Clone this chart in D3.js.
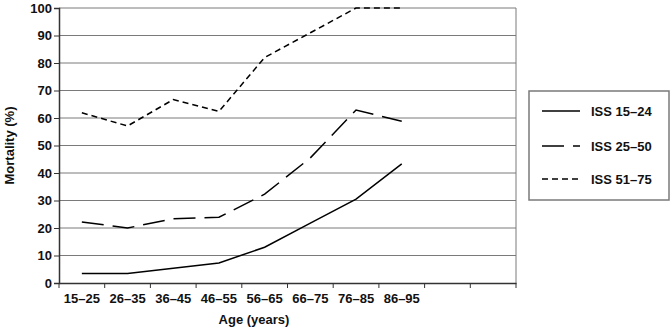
<!DOCTYPE html>
<html>
<head>
<meta charset="utf-8">
<script src="https://cdn.jsdelivr.net/npm/d3@7"></script>
<style>
  body { margin: 0; background: #fff; }
  svg text { font-family: "Liberation Sans", Arial, sans-serif; font-weight: bold; fill: #111; }
</style>
</head>
<body>
<svg id="chart" width="672" height="328"></svg>
<script>
// age groups on the x axis (two blank slots at the end, like the original)
var ageGroups = ["15–25", "26–35", "36–45", "46–55", "56–65", "66–75", "76–85", "86–95"];
var blankSlots = ["", " "];

var seriesNames = ["ISS 15–24", "ISS 25–50", "ISS 51–75"];
var iss15to24 = [3.5, 3.5, 5.4, 7.3, 13, 21.8, 30.5, 43.3];
var iss25to50 = [22.2, 20, 23.4, 23.9, 32.3, 45.5, 62.9, 58.8];
var iss51to75 = [61.9, 57.1, 66.7, 62.4, 82, 91, 100, 100];
var yTicks = [0, 10, 20, 30, 40, 50, 60, 70, 80, 90, 100];

var dashes = [null, "22,9", "6,4"];

var svg = d3.select("#chart");
var margin = {top: 8, left: 59, right: 156, bottom: 45};
var width = 672 - margin.left - margin.right,
    height = 328 - margin.top - margin.bottom;

var g = svg.append("g")
    .attr("transform", "translate(" + margin.left + "," + margin.top + ")");

var x = d3.scaleBand()
    .domain(ageGroups.concat(blankSlots))
    .range([0, width])
    .padding(0);

var y = d3.scaleLinear()
    .domain([0, 100])
    .range([height, 0]);

//gridlines
g.selectAll(".grid")
    .data(yTicks.filter(function(d) { return d > 0; }))
    .enter().append("line")
    .attr("class", "grid")
    .attr("x1", 0)
    .attr("x2", width)
    .attr("y1", function(d) { return y(d); })
    .attr("y2", function(d) { return y(d); })
    .attr("stroke", "#7a7a7a")
    .attr("stroke-width", 1);

//right border of the plot
g.append("line")
    .attr("x1", width).attr("x2", width)
    .attr("y1", 0).attr("y2", height)
    .attr("stroke", "#7a7a7a")
    .attr("stroke-width", 1);

//y axis
var yAxis = d3.axisLeft(y)
    .tickValues(yTicks)
    .tickSize(5)
    .tickPadding(2);

var yG = g.append("g").call(yAxis);
yG.select(".domain").attr("stroke", "#333").attr("stroke-width", 1.5);
yG.selectAll(".tick line").attr("stroke", "#333");
yG.selectAll(".tick text").style("font-size", "13px").attr("fill", "#111");

//x axis: labels centred in bands, ticks at band edges
var xAxis = d3.axisBottom(x)
    .tickSize(0)
    .tickPadding(11);

var xG = g.append("g")
    .attr("transform", "translate(0," + height + ")")
    .call(xAxis);
xG.select(".domain").attr("stroke", "#333").attr("stroke-width", 1.5);
xG.selectAll(".tick text").style("font-size", "13px").attr("fill", "#111");

var edges = x.domain().map(function(d) { return x(d); }).concat([width]);
xG.selectAll(".edge")
    .data(edges)
    .enter().append("line")
    .attr("class", "edge")
    .attr("x1", function(d) { return d; })
    .attr("x2", function(d) { return d; })
    .attr("y1", 0)
    .attr("y2", 5)
    .attr("stroke", "#333");

//axis titles
g.append("text")
    .attr("x", 254 - margin.left)
    .attr("y", height + 41)
    .attr("text-anchor", "middle")
    .style("font-size", "13px")
    .text("Age (years)");

svg.append("text")
    .attr("transform", "translate(14," + (margin.top + height / 2) + ") rotate(-90)")
    .attr("text-anchor", "middle")
    .style("font-size", "13px")
    .text("Mortality (%)");

//series lines
var allSeries = [iss15to24, iss25to50, iss51to75];
var line = d3.line()
    .x(function(d, i) { return x(ageGroups[i]) + x.bandwidth() / 2; })
    .y(function(d) { return y(d); });

g.selectAll(".series")
    .data(allSeries)
    .enter().append("path")
    .attr("class", "series")
    .attr("d", line)
    .attr("fill", "none")
    .attr("stroke", "#000")
    .attr("stroke-width", 1.5)
    .attr("stroke-dasharray", function(d, i) { return dashes[i]; });

//legend
var legend = svg.append("g")
    .attr("class", "legend")
    .attr("transform", "translate(529,91)");

legend.append("rect")
    .attr("width", 140)
    .attr("height", 109)
    .attr("fill", "none")
    .attr("stroke", "#7a7a7a")
    .attr("stroke-width", 1.5);

var items = legend.selectAll(".item")
    .data(seriesNames)
    .enter().append("g")
    .attr("class", "item")
    .attr("transform", function(d, i) { return "translate(0," + [20, 55, 88][i] + ")"; });

items.append("line")
    .attr("x1", 13)
    .attr("x2", 51)
    .attr("stroke", "#000")
    .attr("stroke-width", 1.5)
    .attr("stroke-dasharray", function(d, i) { return dashes[i]; });

items.append("text")
    .attr("x", 62)
    .attr("dy", "0.35em")
    .style("font-size", "13px")
    .text(function(d) { return d; });
</script>
</body>
</html>
